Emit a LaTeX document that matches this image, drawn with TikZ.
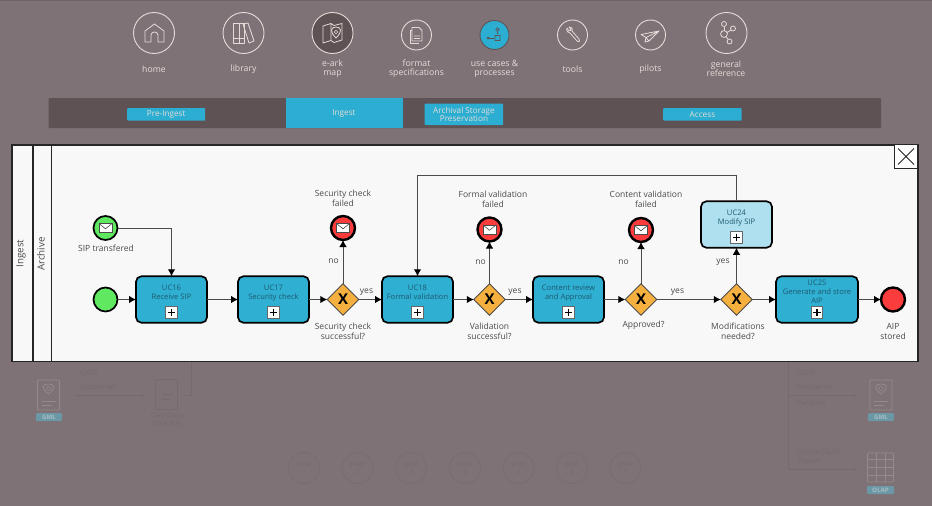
\documentclass[tikz,border=0pt]{standalone}
\usepackage{fontspec}
\setmainfont{Open Sans}
\usetikzlibrary{arrows.meta,shapes.geometric,calc}
\definecolor{bgc}{HTML}{7F7276}
\definecolor{barc}{HTML}{5F5254}
\definecolor{bluec}{HTML}{2BAED1}
\definecolor{taskc}{HTML}{2FAFD2}
\definecolor{lightc}{HTML}{AEE0EF}
\definecolor{greenc}{HTML}{5FE860}
\definecolor{redc}{HTML}{FB3C3C}
\definecolor{orangec}{HTML}{F5B040}
\definecolor{panelc}{HTML}{F8F8F8}
\definecolor{iconc}{HTML}{E4DCD8}
\definecolor{ghostc}{HTML}{756A6E}
\definecolor{ghosti}{HTML}{94898B}
\definecolor{chipc}{HTML}{6A98A6}
\definecolor{chipt}{HTML}{A9BCC3}
\definecolor{tasktext}{HTML}{1E5A70}
\definecolor{labelc}{HTML}{4A4A4A}
\tikzset{
  navcircle/.style={circle,draw=iconc,line width=.9pt,minimum size=#1,inner sep=0,outer sep=0},
  navlabel/.style={text=iconc,font=\fontsize{8.7}{9.4}\selectfont,align=center,inner sep=0},
  navchip/.style={fill=bluec,rounded corners=.8pt,text=iconc,font=\fontsize{8.2}{8.4}\selectfont,align=center,inner sep=0,anchor=north west},
  iconline/.style={draw=iconc,line width=.8pt,line join=round},
  lane/.style={text=labelc,font=\fontsize{9.8}{10}\selectfont,rotate=90,inner sep=0},
  task/.style={draw=black,line width=1.7pt,rounded corners=5.5pt,fill=taskc,minimum width=71pt,minimum height=46.5pt,inner sep=0,outer sep=0,text=tasktext,font=\fontsize{7.6}{9.2}\selectfont,align=center},
  plusbox/.style={draw=black!60,fill=white,line width=.9pt,minimum size=11.5pt,inner sep=0,outer sep=0},
  evstart/.style={circle,draw=black,line width=1.7pt,fill=greenc,minimum size=24pt,inner sep=0,outer sep=0},
  evend/.style={circle,draw=black,line width=2.4pt,fill=redc,minimum size=24pt,inner sep=0,outer sep=0},
  gateway/.style={diamond,aspect=1,draw=labelc,line width=.8pt,fill=orangec,minimum size=31.5pt,inner sep=0,outer sep=0,font=\bfseries\fontsize{15}{15}\selectfont,text=black},
  flow/.style={draw=labelc,line width=1pt,-{Latex[length=7pt,width=7.5pt,color=black]}},
  txt/.style={text=labelc,font=\fontsize{8.5}{9.8}\selectfont,align=center,inner sep=0},
  ghosttxt/.style={text=ghostc,font=\fontsize{7.5}{8.6}\selectfont,align=left,inner sep=0},
  ghostline/.style={draw=ghostc,line width=.5pt},
  ghostarrow/.style={ghostline,-{Latex[length=3pt,width=3pt]}},
  ghostcirc/.style={circle,draw=ghostc,line width=.5pt,minimum size=31pt,inner sep=0,text=ghostc,align=center,font=\fontsize{6.8}{7.6}\selectfont},
  chip/.style={fill=chipc,rounded corners=1pt,text=chipt,font=\bfseries\fontsize{6.2}{6.2}\selectfont,inner sep=0,minimum height=8pt},
  pics/envelope/.style={code={
    \draw[fill=white,draw=labelc,line width=.6pt] (-6.5,-4.5) rectangle (6.5,4.5);
    \draw[draw=labelc,line width=.6pt,line join=round] (-6.5,-4.5) -- (0,0.8) -- (6.5,-4.5);
  }},
  pics/gmlicon/.style={code={
    \draw[draw=ghosti,line width=.8pt,rounded corners=1pt] (-11,-15) rectangle (11,15);
    \draw[draw=ghosti,line width=.8pt] (0,-1) .. controls (-9,-8) and (-5,-11) .. (0,-11) .. controls (5,-11) and (9,-8) .. (0,-1) -- cycle;
    \draw[draw=ghosti,line width=.6pt] (0,-6.5) circle (2pt);
    \draw[draw=ghosti,line width=.8pt] (-7,6) -- (7,6) (-7,10) -- (3,10);
  }}
}
\begin{document}
\begin{tikzpicture}[x=1pt,y=-1pt]
\useasboundingbox (0,0) rectangle (932,506);
\fill[bgc] (0,0) rectangle (932,506);
\fill[black!45!bgc!80!white] (0,0) rectangle (932,1.2);

% navigation circles
\node[navcircle=41pt] (nhome) at (154,33) {};
\node[navcircle=41pt] (nlib) at (243.5,33) {};
\node[navcircle=41pt,fill=barc] (nmap) at (332.5,33) {};
\node[navcircle=30pt] (nfmt) at (416.5,35) {};
\node[navcircle=29pt,fill=bluec,draw=barc] (nuse) at (494.5,35) {};
\node[navcircle=30pt] (ntool) at (572.5,35) {};
\node[navcircle=30pt] (npil) at (650.5,35) {};
\node[navcircle=41pt] (ngen) at (726.5,33) {};

% home
\draw[iconline] (145,42) -- (145,31) -- (154.5,24) -- (164,31) -- (164,42) -- (158,42) -- (158,35) .. controls (158,31) and (151,31) .. (151,35) -- (151,42) -- cycle;
% library
\draw[iconline] (233,23) rectangle (239,43) (239,23) rectangle (244,43) (233,38) -- (244,38);
\draw[iconline] (243,24) -- (248,23) -- (254,41) -- (249,43) -- cycle;
% map
\draw[iconline] (323,26) -- (331,23.5) -- (334,25.5) -- (342,23.5) -- (342,40) -- (334,42.5) -- (331,40.5) -- (323,43) -- cycle (331,24) -- (331,40);
\draw[iconline,fill=barc] (336,38) .. controls (329,31) and (331,27) .. (336,27) .. controls (341,27) and (343,31) .. (336,38) -- cycle;
\draw[iconline,line width=.6pt] (336,32) circle (1.7pt);
% format
\draw[iconline] (412,27.5) -- (419,27.5) -- (422,30.5) -- (422,41) -- (412,41) -- cycle (414,36) -- (420,36) (414,38.5) -- (420,38.5);
\draw[iconline,line width=.6pt] (412,30) -- (410.5,30) -- (410.5,43) -- (419,43);
% use cases
\draw[draw=barc,line width=.8pt] (488,38) -- (494,38) (497.5,34) -- (497.5,31);
\fill[barc] (488,38) circle (1.5pt);
\draw[draw=barc,line width=.8pt] (495,35.5) rectangle (500,40.5) (497.5,29.5) circle (1.6pt);
% tools
\draw[iconline] (567,28) .. controls (566,31) and (568,33) .. (570,33) -- (577,41) .. controls (579,43) and (581,40) .. (579,39) -- (572,31) .. controls (573,28) and (571,27) .. (569,27) -- (571,30) -- (569,31) -- cycle;
% pilots
\draw[iconline,line join=round] (641,34.5) -- (659,31) -- (649,41) -- (646,37.5) -- cycle (646,37.5) -- (659,31) (646,37.5) -- (645,42) -- (649,41);
% general
\draw[iconline] (724,34) circle (3.4pt) (724,24) circle (2.5pt) (733,28.5) circle (2.5pt) (729.5,41.5) circle (2.5pt);
\draw[iconline] (724.5,27) -- (724.5,30.5) (727,32.5) -- (731,30) (726,37) -- (728.3,39.2);

\node[navlabel] (lhome) at (154,69) {home};
\node[navlabel] (llib) at (243.5,69.5) {library};
\node[navlabel] (lmap) at (332.5,69) {e-ark\\map};
\node[navlabel] (lfmt) at (416.5,69) {format\\specifications};
\node[navlabel] (luse) at (494.5,69) {use cases \&\\processes};
\node[navlabel] (ltool) at (572.5,69.5) {tools};
\node[navlabel] (lpil) at (650.5,69.5) {pilots};
\node[navlabel] (lgen) at (726,69) {general\\reference};

% phase bar
\fill[barc,rounded corners=1pt] (48.5,98) rectangle (881,128);
\fill[bluec] (285.5,98) rectangle (403,128);
\node[navchip,minimum width=78pt,minimum height=12.5pt] (cpre) at (127,108) {Pre-Ingest};
\node[text=iconc,font=\fontsize{8.2}{8.4}\selectfont,inner sep=0] (cing) at (344,114) {Ingest};
\node[navchip,minimum width=78.5pt,minimum height=21.5pt] (carc) at (424.5,103.5) {Archival Storage\\Preservation};
\node[navchip,minimum width=78.5pt,minimum height=12.5pt] (cacc) at (663,108) {Access};

% panel
\draw[draw=black!85,line width=1.5pt,fill=panelc] (12,145) rectangle (918,361.5);
\draw[draw=black!85,line width=1.1pt] (33,145) -- (33,361.5);
\draw[draw=black!85,line width=1.1pt] (51.5,145) -- (51.5,361.5);
\node[lane] (ling) at (21,253.5) {Ingest};
\node[lane] (larc) at (41,254) {Archive};
% close box
\node[draw=black!85,line width=1.2pt,fill=white,minimum size=23.5pt,inner sep=0,outer sep=0] (closebox) at (906,156.5) {};
\draw[line width=1pt,black!85] ($(closebox.center)+(-8,-8)$) -- ($(closebox.center)+(8,8)$) ($(closebox.center)+(8,-8)$) -- ($(closebox.center)+(-8,8)$);

% events
\node[evstart] (emsg) at (105.5,228) {};
\pic at (emsg.center) {envelope};
\node[evstart] (estart) at (105.5,299.5) {};
\node[evend] (e1) at (343,228) {};
\pic at (e1.center) {envelope};
\node[evend] (e2) at (489.5,229.5) {};
\pic at (e2.center) {envelope};
\node[evend] (e3) at (641,230) {};
\pic at (e3.center) {envelope};
\node[evend] (eend) at (893,299.5) {};

% tasks
\node[task] (t16) at (171.5,299.5) {UC16\\Receive SIP\\[5pt]~};
\node[task] (t17) at (273.5,299.5) {UC17\\Security check\\[5pt]~};
\node[task] (t18) at (417.5,299.5) {UC18\\Formal validation\\[5pt]~};
\node[task] (tcr) at (568.5,299.5) {Content review\\and Approval\\[5pt]~};
\node[task,fill=lightc] (t24) at (736.5,224.5) {UC24\\Modify SIP\\[5pt]~};
\node[task,minimum width=82pt] (t25) at (817,299.5) {UC25\\Generate and store\\AIP\\[6pt]~};
\foreach \t in {t16,t17,t18,tcr,t25,t24}{
  \node[plusbox] (p\t) at ($(\t.center)+(0,13)$) {};
  \draw[line width=1.3pt,black] ($(p\t.center)+(-3.6,0)$) -- ($(p\t.center)+(3.6,0)$) ($(p\t.center)+(0,-3.6)$) -- ($(p\t.center)+(0,3.6)$);
}

% gateways
\node[gateway] (g1) at (343,299.5) {X};
\node[gateway] (g2) at (489.5,299.5) {X};
\node[gateway] (g3) at (641,299.5) {X};
\node[gateway] (g4) at (736.5,299.5) {X};

% connectors
\draw[flow] (emsg.east) -| (t16.north);
\draw[flow] (estart) -- (t16);
\draw[flow] (t16) -- (t17);
\draw[flow] (t17) -- (g1);
\draw[flow] (g1) -- (t18);
\draw[flow] (t18) -- (g2);
\draw[flow] (g2) -- (tcr);
\draw[flow] (tcr) -- (g3);
\draw[flow] (g3) -- (g4);
\draw[flow] (g4) -- (t25);
\draw[flow] (t25) -- (eend);
\draw[flow] (g1) -- (e1);
\draw[flow] (g2) -- (e2);
\draw[flow] (g3) -- (e3);
\draw[flow] (g4) -- (t24);
\coordinate (loopc) at (736.5,175);
\draw[flow] (t24.north) -- (loopc) -| (t18.north);

% labels
\node[txt] (a0) at (106,248.5) {SIP transfered};
\node[txt] (a1) at (343,198) {Security check\\failed};
\node[txt] (a2) at (493,199) {Formal validation\\failed};
\node[txt] (a3) at (646,199) {Content validation\\failed};
\node[txt] (b1) at (343,331.5) {Security check\\successful?};
\node[txt] (b2) at (489.5,331.5) {Validation\\successful?};
\node[txt] (b3) at (643.5,325.5) {Approved?};
\node[txt] (b4) at (738,331.5) {Modifications\\needed?};
\node[txt] (b5) at (893,331.5) {AIP\\stored};
\node[txt] (n1) at (333.5,261.5) {no};
\node[txt] (y1) at (366.5,292) {yes};
\node[txt] (n2) at (480.5,262) {no};
\node[txt] (y2) at (515,292) {yes};
\node[txt] (n3) at (623.5,262) {no};
\node[txt] (y3) at (677.5,292) {yes};
\node[txt] (y4) at (723,262) {yes};

% ghost layer below the panel
\pic at (48.5,395) {gmlicon};
\node[chip,minimum width=26pt] (gc1) at (49,417) {GML};
\pic at (881,395) {gmlicon};
\node[chip,minimum width=26pt] (gc2) at (881,417) {GML};
\node[ghosttxt,anchor=west] (gq1) at (80,373) {QGIS};
\node[ghosttxt,anchor=west] (gs1) at (80,387) {GeoServer};
\node[draw=ghostc,line width=.5pt,minimum width=22pt,minimum height=30pt,inner sep=0] (gdoc) at (166.5,394) {};
\draw[ghostline] ($(gdoc.center)+(-5,0)$) -- ($(gdoc.center)+(6,0)$) ($(gdoc.center)+(-5,5)$) -- ($(gdoc.center)+(3,5)$);
\node[text=ghostc,font=\fontsize{7.5}{8}\selectfont,align=center,inner sep=0] (gdt) at (167,420) {Geo Data\\(SMURF)};
\coordinate (gl0) at (75,395.5);
\draw[ghostarrow,shorten >=10pt] (gl0) -- (gdoc.west |- gl0);
\coordinate (gl1) at (191,362);
\coordinate (gl2) at (191,395.5);
\draw[ghostline] (gl1) -- (gl2) -- ($(gdoc.east |- gl2)+(4,0)$);
\foreach \n/\x/\l in {1/304/1,2/357.5/2,3/411/3,4/465/4,5/518.5/5,6/572/6,7/625.5/7}{
  \node[ghostcirc] (pc\n) at (\x,468) {pilot\\\l};
}
\node[ghosttxt,anchor=west] (gq2) at (797,373) {QGIS};
\node[ghosttxt,anchor=west] (gs2) at (797,387) {GeoServer};
\node[ghosttxt,anchor=west] (gp2) at (797,404) {Peripleo};
\node[ghosttxt,anchor=west] (go2) at (797,456) {Oracle OLAP\\Viewer};
\coordinate (gr0) at (788,362);
\coordinate (gr1) at (788,395.5);
\coordinate (gr2) at (788,469.5);
\coordinate (gr3) at (857,395.5);
\coordinate (gr4) at (857,469.5);
\draw[ghostline] (gr0) -- (gr2);
\draw[ghostarrow] (gr1) -- (gr3);
\draw[ghostarrow] (gr2) -- (gr4);
\draw[draw=ghosti,line width=.9pt,rounded corners=1pt] (867.5,453) rectangle (893.5,482);
\draw[draw=ghosti,line width=.9pt] (867.5,459) -- (893.5,459) (867.5,467) -- (893.5,467) (867.5,475) -- (893.5,475) (876,453) -- (876,482) (885,453) -- (885,482);
\node[chip,minimum width=27pt] (gc3) at (880.5,490) {OLAP};
\end{tikzpicture}
\end{document}
